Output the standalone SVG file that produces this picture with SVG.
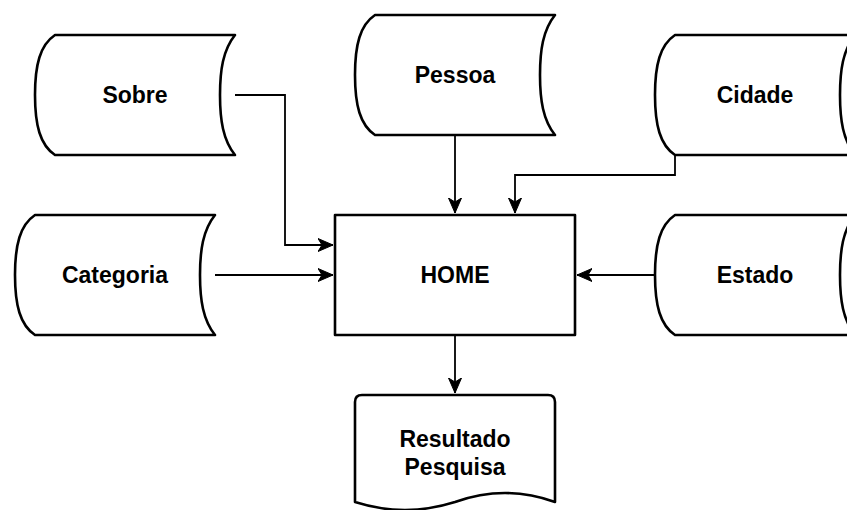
<svg xmlns="http://www.w3.org/2000/svg" width="847" height="510" viewBox="0 0 847 510">
<style>
.shape{fill:#fff;stroke:#000;stroke-width:2.6;stroke-linejoin:round}
.edge{fill:none;stroke:#000;stroke-width:1.8}
.lbl{font-family:"Liberation Sans",Arial,sans-serif;font-size:23px;font-weight:bold;fill:#000;text-anchor:middle}
</style>
<defs>
<marker id="arr" markerUnits="userSpaceOnUse" markerWidth="16" markerHeight="16" viewBox="-15 -8 16 16" refX="0" refY="0" orient="auto">
<path d="M0,0 L-15,-6.5 L-11,0 L-15,6.5 Z" fill="#000" stroke="#000" stroke-width="1" stroke-linejoin="miter"/>
</marker>
<path id="ds" d="M20,0 H200 C188,15 185,35 185,60 C185,85 188,105 200,120 H20 C5,110 0,90 0,60 C0,30 5,10 20,0 Z"/>
</defs>
<rect width="847" height="510" fill="#fff"/>
<g id="connectors">
<path class="edge" d="M235,95 H285 V245 H333" marker-end="url(#arr)"/>
<path class="edge" d="M215,275 H333" marker-end="url(#arr)"/>
<path class="edge" d="M455,135 V213" marker-end="url(#arr)"/>
<path class="edge" d="M675,155 V175 H515 V213" marker-end="url(#arr)"/>
<path class="edge" d="M655,275 H577" marker-end="url(#arr)"/>
<path class="edge" d="M455,335 V393" marker-end="url(#arr)"/>
</g>
<g id="sobre">
<use href="#ds" class="shape" x="35" y="35"/>
<text class="lbl" x="135" y="103">Sobre</text>
</g>
<g id="pessoa">
<use href="#ds" class="shape" x="355" y="15"/>
<text class="lbl" x="455" y="83">Pessoa</text>
</g>
<g id="cidade">
<use href="#ds" class="shape" x="655" y="35"/>
<text class="lbl" x="755" y="103">Cidade</text>
</g>
<g id="categoria">
<use href="#ds" class="shape" x="15" y="215"/>
<text class="lbl" x="115" y="283">Categoria</text>
</g>
<g id="home">
<rect class="shape" x="335" y="215" width="240" height="120" stroke-width="1.8"/>
<text class="lbl" x="455" y="283">HOME</text>
</g>
<g id="estado">
<use href="#ds" class="shape" x="655" y="215"/>
<text class="lbl" x="755" y="283">Estado</text>
</g>
<g id="resultado">
<path class="shape" d="M362,395 H548 Q555,395 555,402 V502 Q505,484 455,502 Q405,518 355,502 V402 Q355,395 362,395 Z"/>
<text class="lbl" x="455" y="447">Resultado</text>
<text class="lbl" x="455" y="475">Pesquisa</text>
</g>
</svg>
